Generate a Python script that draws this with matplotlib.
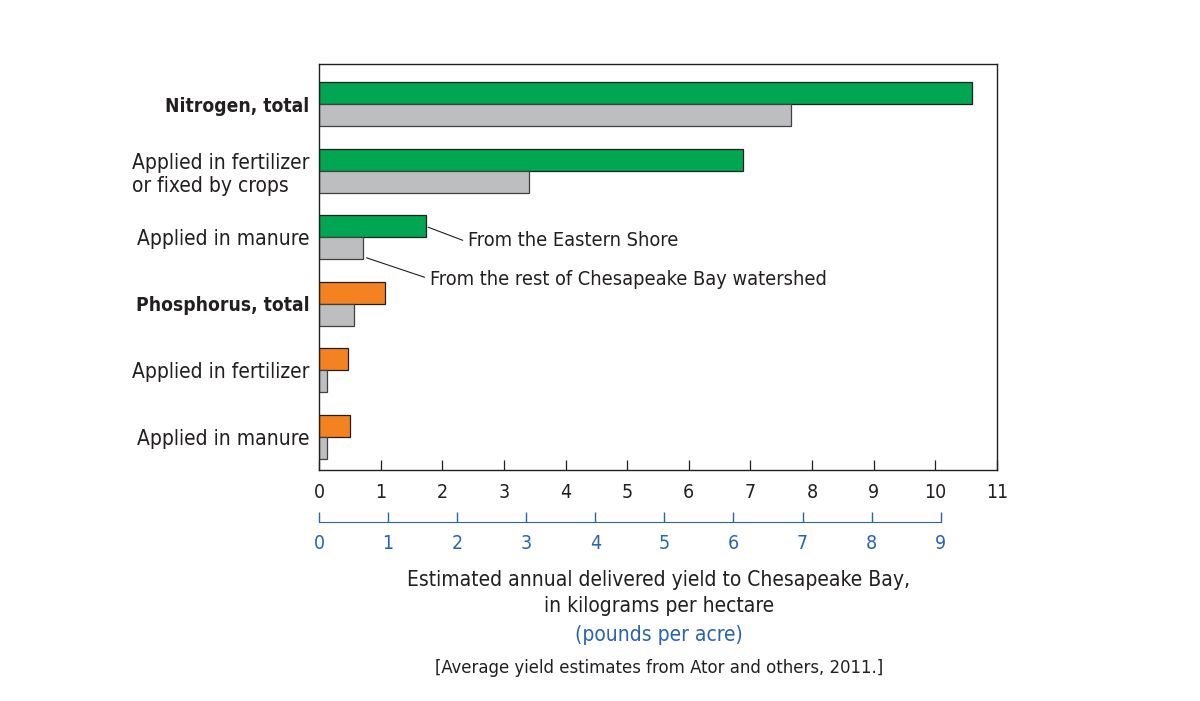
import matplotlib
matplotlib.use("Agg")
import matplotlib.pyplot as plt
import numpy as np

plt.rcParams["font.family"] = ["DejaVu Sans"]
plt.rcParams["font.stretch"] = "condensed"

GREEN = "#00A651"
ORANGE = "#F58220"
GRAY = "#BCBEC0"
BLUE = "#2B63AE"
EDGE = "#231F20"

categories = ["Nitrogen, total", "Applied in fertilizer\nor fixed by crops", "Applied in manure",
              "Phosphorus, total", "Applied in fertilizer", "Applied in manure"]
bold_cats = [True, False, False, True, False, False]
eastern_shore = [10.6, 6.88, 1.74, 1.07, 0.47, 0.51]
rest_of_bay = [7.66, 3.41, 0.71, 0.57, 0.13, 0.13]
shore_colors = [GREEN, GREEN, GREEN, ORANGE, ORANGE, ORANGE]
kg_ticks = list(range(0, 12))
lb_ticks = list(range(0, 10))
KG_HA_TO_LB_AC = 0.892179

fig = plt.figure(figsize=(12, 7.01), dpi=100)
ax = fig.add_axes([0.2658, 0.3295, 0.565, 0.579])

y = np.arange(len(categories))
h = 0.33
ax.barh(y - h / 2, eastern_shore, height=h, color=shore_colors, edgecolor=EDGE, linewidth=0.9)
ax.barh(y + h / 2, rest_of_bay, height=h, color=GRAY, edgecolor="#404040", linewidth=0.9)

ax.set_xlim(0, 11)
ax.set_ylim(5.5, -0.6)
ax.set_yticks(y)
ax.set_yticklabels(categories, fontsize=15, color=EDGE)
for lab, b in zip(ax.get_yticklabels(), bold_cats):
    lab.set_horizontalalignment("right")
    lab.set_multialignment("left")
    if b:
        lab.set_fontweight("bold")
        lab.set_fontsize(13.8)
ax.tick_params(axis="y", length=0, pad=7)

ax.set_xticks(kg_ticks)
ax.tick_params(axis="x", direction="in", length=7, width=0.9, labelsize=14, pad=9, colors=EDGE)
for s in ax.spines.values():
    s.set_linewidth(1.0)
    s.set_color(EDGE)

# pounds-per-acre scale below the main axis
sec = ax.secondary_xaxis(-0.128, functions=(lambda x: x * KG_HA_TO_LB_AC, lambda x: x / KG_HA_TO_LB_AC))
sec.set_xticks(lb_ticks)
sec.tick_params(axis="x", direction="in", length=7, width=1.0, labelsize=14, pad=9, colors=BLUE)
sec.spines["bottom"].set_color(BLUE)
sec.spines["bottom"].set_bounds(0, 9)

# leader-line labels
ax.annotate("From the Eastern Shore", xy=(eastern_shore[2] + 0.03, 1.85), xytext=(2.42, 2.05),
            ha="left", va="center", fontsize=14.3, color=EDGE,
            arrowprops=dict(arrowstyle="-", color=EDGE, lw=0.8, shrinkA=2, shrinkB=0, relpos=(0, 0.4)))
ax.annotate("From the rest of Chesapeake Bay watershed", xy=(rest_of_bay[2] + 0.06, 2.31), xytext=(1.80, 2.63),
            ha="left", va="center", fontsize=14.3, color=EDGE,
            arrowprops=dict(arrowstyle="-", color=EDGE, lw=0.8, shrinkA=2, shrinkB=0, relpos=(0, 0.5)))

fig.text(0.549, 1 - 580 / 701, "Estimated annual delivered yield to Chesapeake Bay,", ha="center", va="center",
         fontsize=15, color=EDGE)
fig.text(0.549, 1 - 606 / 701, "in kilograms per hectare", ha="center", va="center", fontsize=15, color=EDGE)
fig.text(0.549, 1 - 635 / 701, "(pounds per acre)", ha="center", va="center", fontsize=15, color=BLUE)
fig.text(0.549, 1 - 668 / 701, "[Average yield estimates from Ator and others, 2011.]", ha="center", va="center",
         fontsize=13.2, color=EDGE)

fig.savefig("out.png", dpi=100)
